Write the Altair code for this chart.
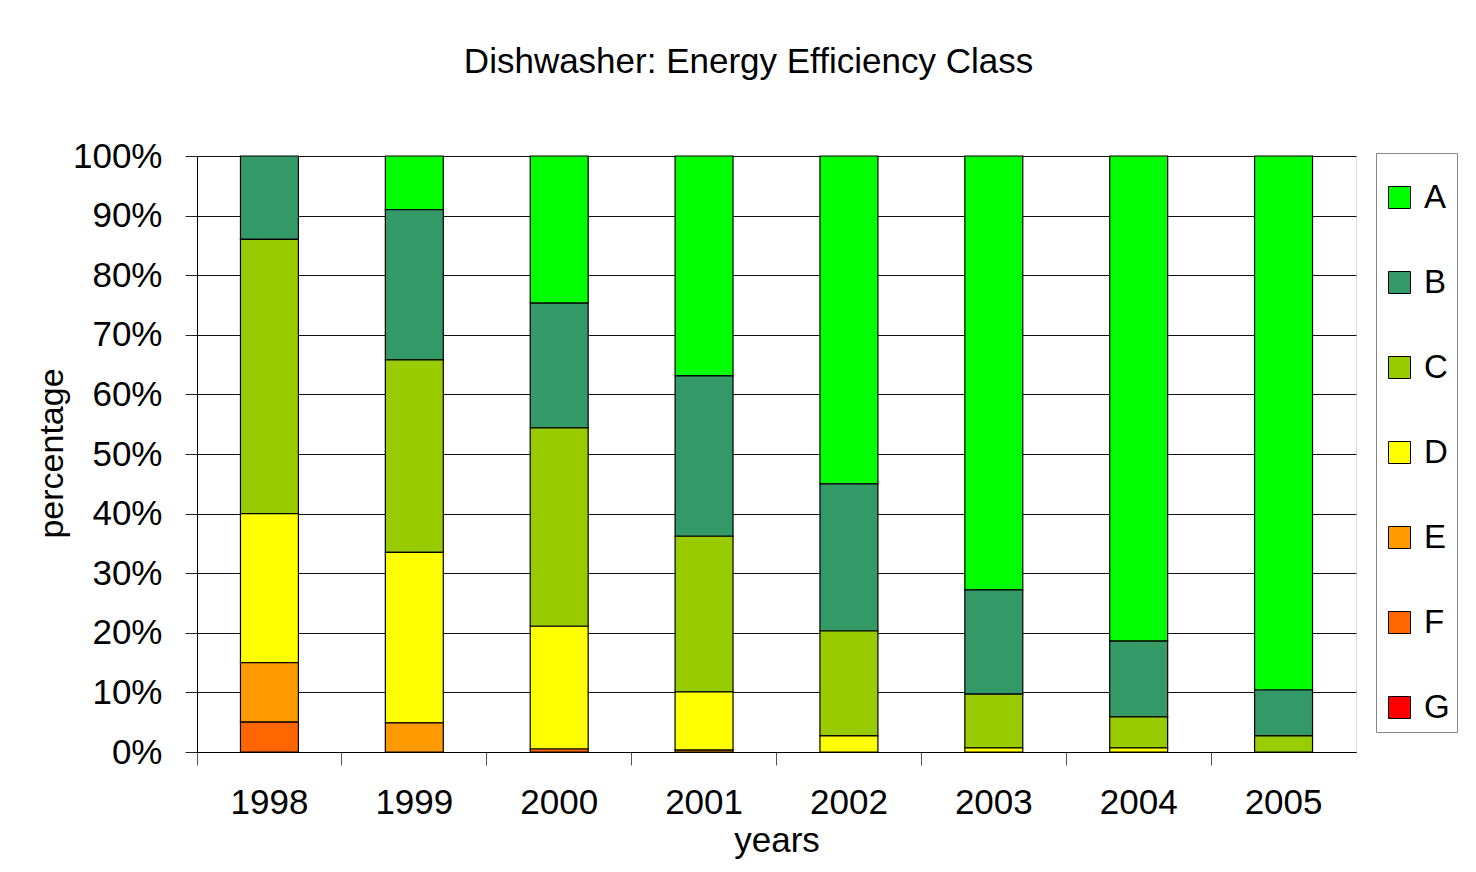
import altair as alt
import pandas as pd

years = ["1998", "1999", "2000", "2001", "2002", "2003", "2004", "2005"]
classes = ["A", "B", "C", "D", "E", "F", "G"]
colors = ["#00FF00", "#339966", "#99CC00", "#FFFF00", "#FF9900", "#FF6600", "#FF0000"]

A = [0.0, 9.0, 24.7, 36.9, 55.0, 72.8, 81.4, 89.6]
B = [14.0, 25.2, 20.9, 26.9, 24.7, 17.5, 12.7, 7.7]
C = [46.0, 32.3, 33.3, 26.1, 17.6, 9.0, 5.2, 2.7]
D = [25.0, 28.6, 20.6, 9.8, 2.7, 0.7, 0.7, 0.0]
E = [10.0, 4.9, 0.0, 0.3, 0.0, 0.0, 0.0, 0.0]
F = [5.0, 0.0, 0.5, 0.0, 0.0, 0.0, 0.0, 0.0]
G = [0.0, 0.0, 0.0, 0.0, 0.0, 0.0, 0.0, 0.0]

series = {"A": A, "B": B, "C": C, "D": D, "E": E, "F": F, "G": G}
rows = []
for cls, vals in series.items():
    for yr, v in zip(years, vals):
        if v > 0:
            rows.append({"year": yr, "cls": cls, "value": v, "ord": 6 - classes.index(cls)})
df = pd.DataFrame(rows)

FONT = "Liberation Sans"

chart = alt.Chart(df).mark_bar(stroke="black", strokeWidth=1.2,
                               width=alt.RelativeBandSize(0.4)).encode(
    x=alt.X("year:N", sort=years,
            scale=alt.Scale(paddingInner=0, paddingOuter=0),
            axis=alt.Axis(title="years", labelAngle=0, bandPosition=0,
                          tickSize=13, labelPadding=20, domainColor="black", tickColor="#555",
                          labelFont=FONT, labelFontSize=35, labelColor="black",
                          titleFont=FONT, titleFontSize=35, titleFontWeight="normal",
                          titleColor="black", titleY=99, titleBaseline="alphabetic")),
    y=alt.Y("value:Q", stack="normalize",
            scale=alt.Scale(domain=[0, 1]),
            axis=alt.Axis(title="percentage", format=".0%", values=[i / 10 for i in range(11)],
                          tickSize=12, labelPadding=23, domainColor="black", tickColor="#222",
                          grid=True, gridColor="#111", gridWidth=1.2,
                          labelFont=FONT, labelFontSize=35, labelColor="black",
                          titleFont=FONT, titleFontSize=34, titleFontWeight="normal",
                          titleColor="black", titleX=-135, titleY=297,
                          titleBaseline="alphabetic", titleAngle=-90)),
    color=alt.Color("cls:N", scale=alt.Scale(domain=classes, range=colors),
                    legend=alt.Legend(title=" ", titleFontSize=13, titlePadding=8,
                                      orient="none", legendX=1179, legendY=-3,
                                      symbolType="square", symbolSize=484,
                                      symbolStrokeColor="black", symbolStrokeWidth=1,
                                      labelFont=FONT, labelFontSize=33, labelColor="black",
                                      labelOffset=8, rowPadding=51, padding=7,
                                      strokeColor="#888", fillColor="white")),
    order=alt.Order("ord:Q", sort="ascending"),
).properties(
    width=1159, height=596,
    autosize=alt.AutoSizeParams(type="none"),
    padding={"left": 189, "top": 148, "right": 112, "bottom": 112},
    title=alt.TitleParams("Dishwasher: Energy Efficiency Class", font=FONT, fontSize=35,
                          fontWeight="normal", color="black", anchor="middle",
                          dx=-28, offset=31, baseline="alphabetic"),
).configure_view(stroke="#222", strokeWidth=1.2).configure(background="white")

chart.save("out.html", embed_options={"renderer": "svg", "actions": False})
